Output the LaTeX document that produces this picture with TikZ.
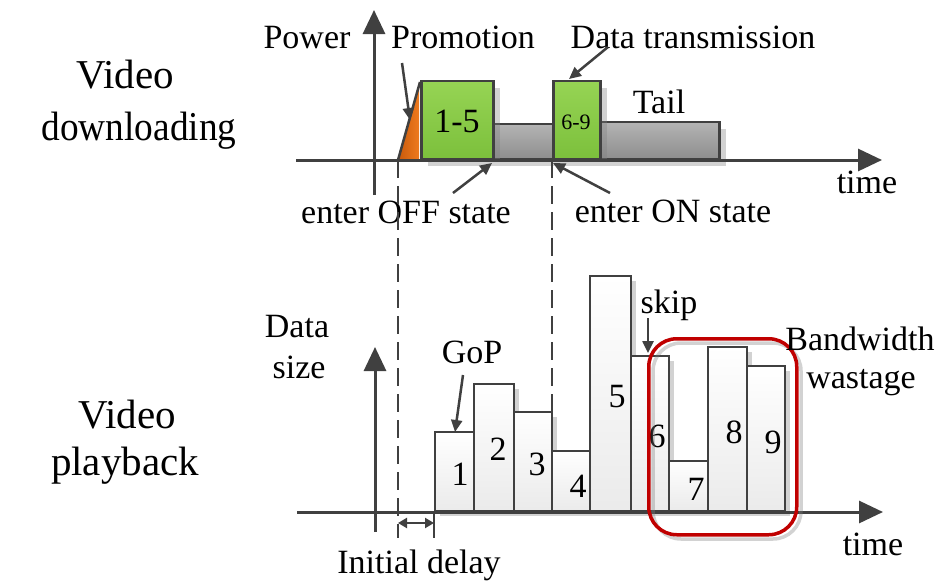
\documentclass[tikz,border=0pt]{standalone}
\usepackage{fontspec}
\setmainfont{Liberation Serif}
\usetikzlibrary{arrows.meta,shadows}
\definecolor{ax}{HTML}{404040}
\definecolor{gtop}{HTML}{96D454}
\definecolor{gbot}{HTML}{7CC03C}
\definecolor{grtop}{HTML}{B4B4B4}
\definecolor{grbot}{HTML}{8E8E8E}
\definecolor{ortop}{HTML}{C85A0C}
\definecolor{orbot}{HTML}{EE7A1E}
\definecolor{wred}{HTML}{C00000}
\tikzset{
  axisline/.style={draw=ax, line width=3pt, -{Triangle[length=24pt,width=22pt]}},
  ptr/.style={draw=ax, line width=2.5pt, -{Triangle[length=12pt,width=11pt]}},
  lbl/.style={font=\fontsize{34}{40}\selectfont, inner sep=0pt, anchor=base},
  small/.style={font=\fontsize{22}{26}\selectfont, inner sep=0pt, anchor=base},
  big/.style={font=\fontsize{41}{48}\selectfont, inner sep=0pt, anchor=base},
  shad/.style={drop shadow={shadow xshift=7pt, shadow yshift=-7pt, opacity=0.35, fill=gray}},
  thinshad/.style={drop shadow={shadow xshift=5pt, shadow yshift=-5pt, opacity=0.35, fill=gray}},
  greenbox/.style={draw=ax, line width=2.5pt, top color=gtop, bottom color=gbot, inner sep=0pt, anchor=south west, shad},
  graybox/.style={draw=ax, line width=2.5pt, top color=grtop, bottom color=grbot, inner sep=0pt, anchor=south west, shad},
  gopbox/.style={draw=ax, line width=2.3pt, top color=white, bottom color=black!8, inner sep=0pt, anchor=south west, thinshad},
  dashline/.style={draw=ax, line width=2.6pt, dash pattern=on 18pt off 8pt},
}
\begin{document}
\begin{tikzpicture}[x=1pt,y=-1pt]
\useasboundingbox (0,0) rectangle (939,581);
\fill[white] (0,0) rectangle (939,581);

% ---------- left titles
\node[big] (t1) at (125,88) {Video};
\node[big, xscale=0.91] (t2) at (139,140) {downloading};
\node[big] (t3) at (127,428) {Video};
\node[big] (t4) at (125,475) {playback};

% ---------- top plot
\node[graybox, minimum width=60pt, minimum height=35pt] (gr1) at (492,160) {};
\node[graybox, minimum width=119pt, minimum height=37pt] (gr2) at (599,160) {};
\node[greenbox, minimum width=72pt, minimum height=78pt] (g1) at (420,160) {};
\node[greenbox, minimum width=47pt, minimum height=78pt] (g2) at (552,160) {};
\shade[left color=ortop, right color=orbot] (398,160) -- (419,83) -- (419,160) -- cycle;
\draw[ax, line width=2.5pt] (398,160) -- (420,82);
\node[lbl] (l15) at (457,132) {1-5};
\node[small] (l69) at (576,129) {6-9};

\coordinate (ya0) at (374,195);
\coordinate (ya1) at (374,10);
\coordinate (xa0) at (296,160);
\coordinate (xa1) at (882,160);
\draw[axisline] (ya0) -- (ya1);
\draw[axisline] (xa0) -- (xa1);

\node[lbl] (power) at (307,48) {Power};
\node[lbl] (promo) at (463,48) {Promotion};
\node[lbl] (datatx) at (693,48) {Data transmission};
\node[lbl] (tail) at (659,113) {Tail};
\node[lbl] (time1) at (867,193) {time};
\node[lbl] (off) at (406,223) {enter OFF state};
\node[lbl] (on) at (673,222) {enter ON state};

\coordinate (pa0) at (402,63);
\coordinate (pa1) at (410,120);
\draw[ptr] (pa0) -- (pa1);
\coordinate (da0) at (608,47);
\coordinate (da1) at (569,79);
\draw[ptr] (da0) -- (da1);
\coordinate (oa0) at (453,193);
\coordinate (oa1) at (492,163);
\draw[ptr] (oa0) -- (oa1);
\coordinate (na0) at (610,193);
\coordinate (na1) at (553,163);
\draw[ptr] (na0) -- (na1);

% ---------- dashed guides
\coordinate (d1a) at (398,160);
\coordinate (d1b) at (398,538);
\coordinate (d2a) at (552,160);
\coordinate (d2b) at (552,413);
\draw[dashline] (d1a) -- (d1b);
\draw[dashline] (d2a) -- (d2b);

% ---------- bottom plot
\node[gopbox, minimum width=39pt, minimum height=79pt] (b1) at (434,512) {};
\node[gopbox, minimum width=40pt, minimum height=127pt] (b2) at (473,512) {};
\node[gopbox, minimum width=38pt, minimum height=99pt] (b3) at (513,512) {};
\node[gopbox, minimum width=38pt, minimum height=60pt] (b4) at (551,512) {};
\node[gopbox, minimum width=41pt, minimum height=235pt] (b5) at (589,512) {};
\node[gopbox, minimum width=38pt, minimum height=155pt] (b6) at (630,512) {};
\node[gopbox, minimum width=39pt, minimum height=50pt] (b7) at (668,512) {};
\node[gopbox, minimum width=39pt, minimum height=164pt] (b8) at (707,512) {};
\node[gopbox, minimum width=38pt, minimum height=145pt] (b9) at (746,512) {};
\node[lbl] (n1) at (460,485) {1};
\node[lbl] (n2) at (498,460) {2};
\node[lbl] (n3) at (537,475) {3};
\node[lbl] (n4) at (578,497) {4};
\node[lbl] (n5) at (617,407) {5};
\node[lbl] (n6) at (657,447) {6};
\node[lbl] (n7) at (696,500) {7};
\node[lbl] (n8) at (734,443) {8};
\node[lbl] (n9) at (773,453) {9};

\coordinate (yb0) at (375,532);
\coordinate (yb1) at (375,347);
\coordinate (xb0) at (297,512);
\coordinate (xb1) at (883,512);
\draw[axisline] (yb0) -- (yb1);
\draw[axisline] (xb0) -- (xb1);

% red wastage frame with shadow
\draw[gray, opacity=0.35, line width=3.5pt, rounded corners=28pt] (653,343) rectangle (801,539);
\node[draw=wred, line width=3.5pt, rounded corners=28pt, minimum width=148pt, minimum height=196pt, inner sep=0pt, anchor=north west] (waste) at (647,337) {};

\node[lbl] (data) at (297,337) {Data};
\node[lbl] (size) at (299,378) {size};
\node[lbl] (gop) at (472,363) {GoP};
\node[lbl] (skip) at (669,313) {skip};
\node[lbl] (bw1) at (860,350) {Bandwidth};
\node[lbl] (bw2) at (861,388) {wastage};
\node[lbl] (time2) at (873,555) {time};
\node[lbl] (idl) at (419,573) {Initial delay};

\coordinate (ga0) at (463,375);
\coordinate (ga1) at (455,432);
\draw[ptr] (ga0) -- (ga1);
\coordinate (sa0) at (648,318);
\coordinate (sa1) at (648,353);
\draw[ptr] (sa0) -- (sa1);

\coordinate (ida) at (398,523);
\coordinate (idb) at (434,523);
\coordinate (tk0) at (434,512);
\coordinate (tk1) at (434,538);
\draw[draw=ax, line width=2.5pt] (tk0) -- (tk1);
\draw[draw=ax, line width=2.2pt, {Triangle[length=9pt,width=10pt]}-{Triangle[length=9pt,width=10pt]}] (ida) -- (idb);
\end{tikzpicture}
\end{document}
